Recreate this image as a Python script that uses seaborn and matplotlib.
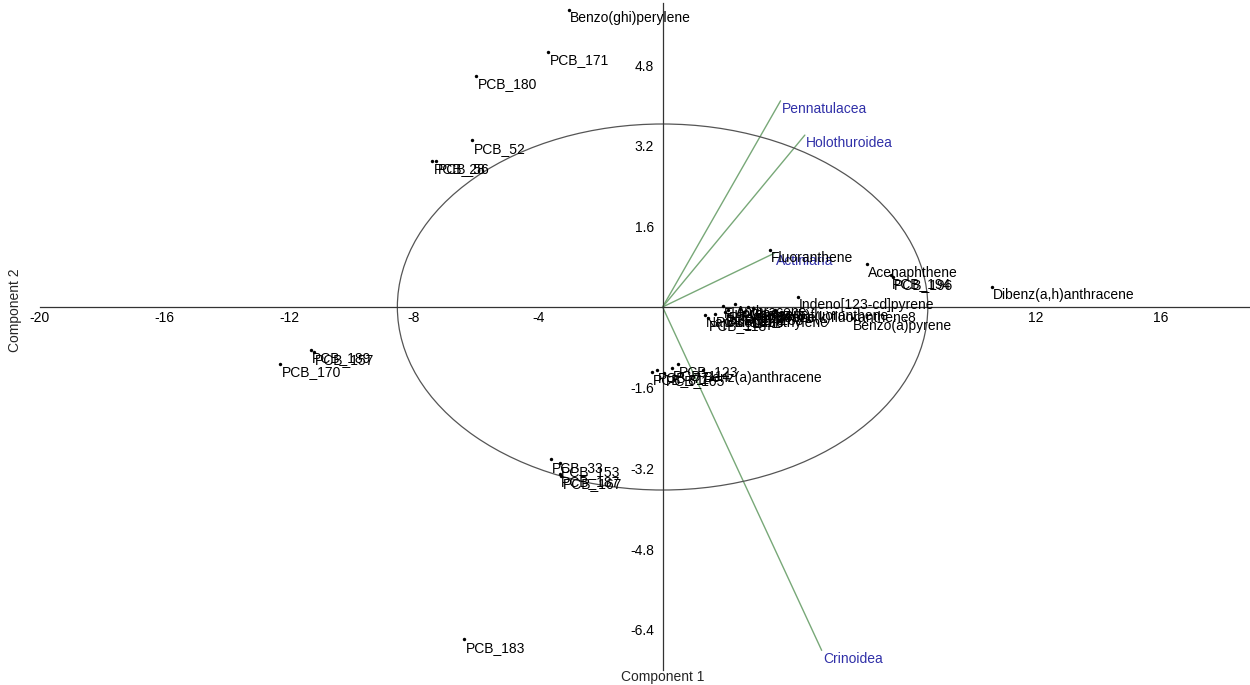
import numpy as np
import pandas as pd
import matplotlib
matplotlib.use("Agg")
import matplotlib.pyplot as plt
from matplotlib.patches import Ellipse
import seaborn as sns

# ---- PCA biplot data (scores) ----
labels = [
    "Benzo(ghi)perylene", "PCB_171", "PCB_180", "PCB_52", "PCB_28", "PCB_56",
    "Fluoranthene", "Acenaphthene", "PCB_194", "PCB_196", "Dibenz(a,h)anthracene",
    "Indeno[123-cd]pyrene", "Benzo(a)pyrene",
    "Naphthalene", "PCB_118", "PCB_101", "Fluorene", "Phenanthrene", "Anthracene",
    "Pyrene", "Chrysene", "Acenaphthylene", "Benzo(b)fluoranthene", "Benzo(k)fluoranthene",
    "PCB_138", "PCB_149",
    "PCB_81", "PCB_77", "PCB_105", "PCB_114", "PCB_123", "Benz(a)anthracene",
    "PCB_170", "PCB_189", "PCB_157",
    "PCB_33", "PCB_153", "PCB_187", "PCB_167", "PCB_183",
]
comp1 = [
    -3.02, -3.67, -5.98, -6.11, -7.40, -7.27,
    3.44, 6.56, 7.33, 7.40, 10.58,
    4.34, 6.08,
    1.35, 1.45, 1.67, 1.93, 2.09, 2.32,
    2.48, 2.73, 2.09, 2.91, 3.60,
    2.60, 2.00,
    -0.35, -0.19, 0.06, 0.29, 0.48, 1.29,
    -12.28, -11.30, -11.20,
    -3.60, -3.30, -3.31, -3.25, -6.37,
]
comp2 = [
    5.89, 5.06, 4.58, 3.31, 2.90, 2.90,
    1.13, 0.85, 0.63, 0.60, 0.40,
    0.20, -0.22,
    -0.16, -0.22, -0.14, 0.02, -0.06, 0.06,
    -0.04, 0.00, -0.16, -0.02, -0.06,
    -0.10, -0.10,
    -1.29, -1.25, -1.31, -1.21, -1.13, -1.25,
    -1.13, -0.85, -0.89,
    -3.02, -3.10, -3.31, -3.35, -6.59,
]

# ---- loadings (taxa vectors) ----
taxa = ["Pennatulacea", "Holothuroidea", "Actiniaria", "Crinoidea"]
load1 = [3.79, 4.57, 3.60, 5.11]
load2 = [4.09, 3.41, 1.07, -6.81]

# ellipse half axes
ell_w, ell_h = 8.52, 3.63

sns.set_theme(style="white")
plt.rcParams['font.family'] = ['Liberation Sans', 'DejaVu Sans']

df = pd.DataFrame({"label": labels, "c1": comp1, "c2": comp2})

fig = plt.figure(figsize=(12.5, 6.85), dpi=100)
ax = fig.add_axes([40 / 1250, 15 / 685, 1210 / 1250, 667 / 685])

# vectors first, under the points
for name, lx, ly in zip(taxa, load1, load2):
    ax.plot([0, lx], [0, ly], color="#78a878", lw=1.0, zorder=1)
    ax.annotate(name, (lx, ly), xytext=(1, -1), textcoords="offset points",
                ha="left", va="top", color="#3030a8", fontsize=10, zorder=3)

ax.add_patch(Ellipse((0, 0), 2 * ell_w, 2 * ell_h, fill=False,
                     edgecolor="#555555", lw=0.9, zorder=1))

sns.scatterplot(data=df, x="c1", y="c2", color="black", s=6, linewidth=0,
                ax=ax, zorder=4, legend=False)
for _, row in df.iterrows():
    ax.annotate(row["label"], (row["c1"], row["c2"]), xytext=(1, -1),
                textcoords="offset points", ha="left", va="top",
                color="black", fontsize=10, zorder=4)

ax.set_xlim(-20, 18.87)
ax.set_ylim(-7.2, 6.03)

ax.spines['left'].set_position(('data', 0))
ax.spines['bottom'].set_position(('data', 0))
ax.spines['top'].set_visible(False)
ax.spines['right'].set_visible(False)
for s in ['left', 'bottom']:
    ax.spines[s].set_color("#333333")
    ax.spines[s].set_linewidth(0.9)

xt = [-20, -16, -12, -8, -4, 4, 8, 12, 16]
yt = [-6.4, -4.8, -3.2, -1.6, 1.6, 3.2, 4.8]
ax.set_xticks(xt)
ax.set_xticklabels([str(v) for v in xt])
ax.set_yticks(yt)
ax.set_yticklabels([f"{v:.1f}" for v in yt])
ax.tick_params(axis='x', direction='in', length=5, width=0.8, labelsize=10, pad=3,
               colors="#333333", labelcolor="black")
ax.tick_params(axis='y', direction='out', length=4, width=0.8, labelsize=10, pad=2,
               colors="#333333", labelcolor="black")
ax.set_xlabel("")
ax.set_ylabel("")
ax.patch.set_alpha(0)

fig.text(663 / 1250, 1 - 677 / 685, "Component 1", ha="center", va="center", fontsize=10)
fig.text(15 / 1250, 1 - 310 / 685, "Component 2", ha="center", va="center",
         rotation=90, fontsize=10)

fig.savefig("out.png", dpi=100)
